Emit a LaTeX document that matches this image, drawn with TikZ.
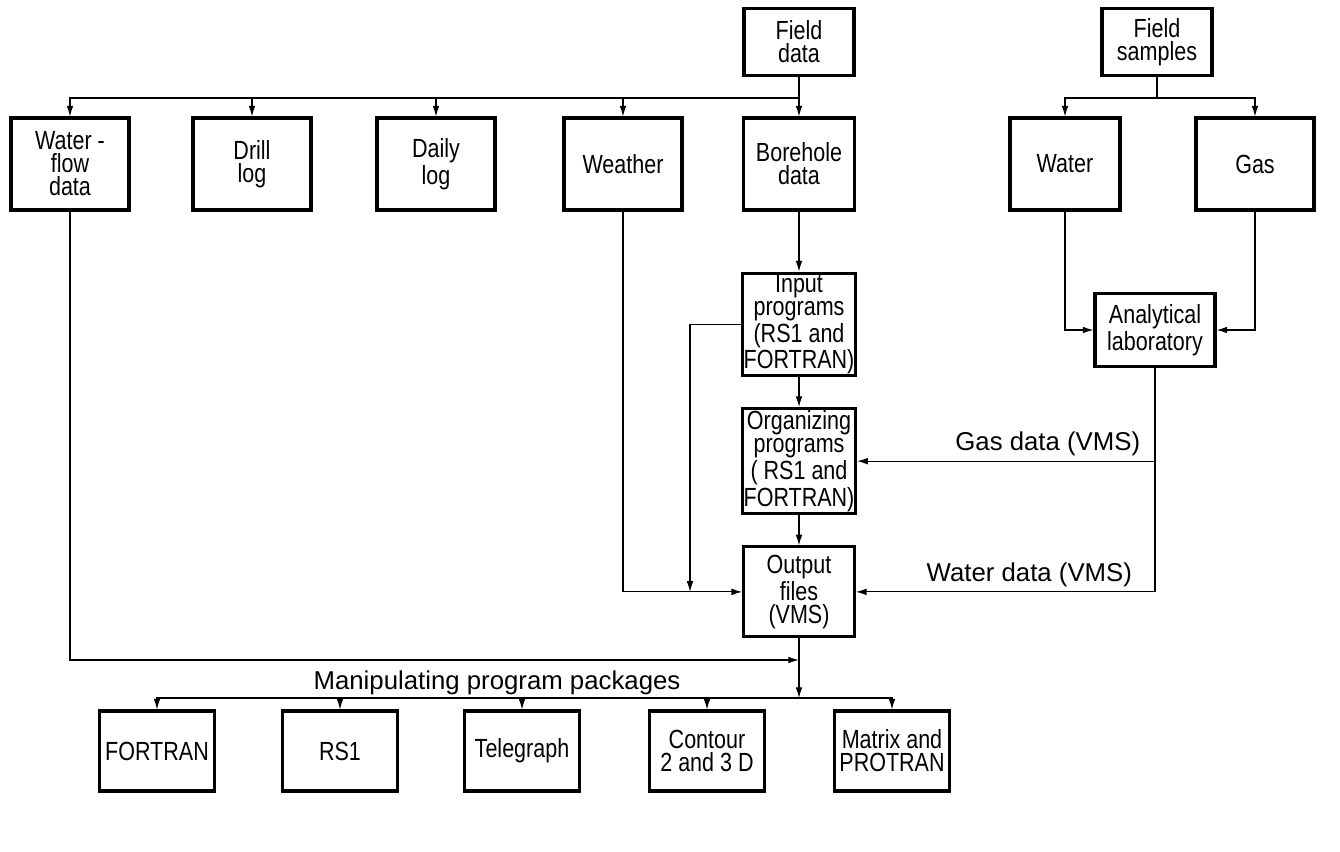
\documentclass[tikz,border=0pt]{standalone}
\usepackage{fontspec}
\setmainfont{Liberation Sans}
\newfontfamily\narrowfont{Liberation Sans}[FakeStretch=0.82]
\usetikzlibrary{arrows.meta,positioning}
\tikzset{
  unit/.style={draw,line width=1.3pt,align=center,inner sep=0.5pt,
    font=\narrowfont\fontsize{11.2}{9.8}\selectfont},
  source/.style={unit,minimum width=1.65cm,minimum height=1cm},
  record/.style={unit,minimum width=1.77cm,minimum height=1.38cm},
  program/.style={unit,minimum width=1.66cm},
  package/.style={unit,minimum width=1.72cm,minimum height=1.2cm},
  link/.style={->,line width=0.5pt},
  tag/.style={font=\fontsize{11}{11}\selectfont,inner sep=2pt}
}

\begin{document}
\begin{tikzpicture}[x=0.015cm,y=-0.015cm,>={Latex[length=1.6mm,width=1mm]}]
  \useasboundingbox (0,0) rectangle (1340,851);
  % sources
  \node[source] (fielddata) at (799,42) {Field\\data};
  \node[source] (fieldsamples) at (1157,42) {Field\\samples};
  % records
  \node[record] (waterflow) at (70,164) {Water -\\flow\\data};
  \node[record] (drill) at (252,164) {Drill\\log};
  \node[record] (daily) at (436,164) {Daily\\log};
  \node[record] (weather) at (623,164) {Weather};
  \node[record,minimum width=1.66cm] (borehole) at (799,164) {Borehole\\data};
  \node[record,minimum width=1.65cm] (water) at (1065,164) {Water};
  \node[record] (gas) at (1255,164) {Gas};
  % programs
  \node[program,minimum height=1.45cm,below=0.9cm of borehole] (input) {Input\\programs\\(RS1 and\\FORTRAN)};
  \node[program,minimum height=1.58cm,below=0.45cm of input] (organize) {Organizing\\programs\\( RS1 and\\FORTRAN)};
  \node[program,minimum height=1.35cm,below=0.45cm of organize] (output) {Output\\files\\(VMS)};
  \node[unit,minimum width=1.8cm,minimum height=1.1cm] (lab) at (1155,330) {Analytical\\laboratory};
  % packages
  \node[package] (fortran) at (157,751) {FORTRAN};
  \node[package] (rsone) at (340,751) {RS1};
  \node[package] (telegraph) at (522,751) {Telegraph};
  \node[package] (contour) at (707,751) {Contour\\2 and 3 D};
  \node[package] (matrix) at (892,751) {Matrix and\\PROTRAN};
  \node[tag] (manip) at (497,683) {Manipulating program packages};
  % buses
  \coordinate (topbus) at (799,98);
  \coordinate (samplebus) at (1157,98);
  \coordinate (inbus) at (690,0);
  \coordinate (flowbus) at (799,660);
  \coordinate (packbus) at (799,698);
  % connectors
  \draw[link] (fielddata) -- (borehole);
  \foreach \r in {waterflow,drill,daily,weather}
    \draw[link] (topbus) -| (\r.north);
  \draw[line width=0.5pt] (fieldsamples) -- (samplebus);
  \draw[link] (samplebus) -| (water.north);
  \draw[link] (samplebus) -| (gas.north);
  \draw[link] (water.south) |- (lab.west);
  \draw[link] (gas.south) |- (lab.east);
  \draw[link] (borehole) -- (input);
  \draw[link] (input) -- (organize);
  \draw[link] (organize) -- (output);
  \draw[link] (input.west) -| (inbus |- output);
  \draw[link] (weather.south) |- (output.west);
  \draw[link] (lab.south) |- (output.east) node[tag,pos=0.71,above] {Water data (VMS)};
  \draw[link] (lab.south |- organize.east) -- (organize.east) node[tag,pos=0.36,above] {Gas data (VMS)};
  \draw[link] (waterflow.south) |- (flowbus);
  \draw[link] (output.south) -- (packbus);
  \foreach \p in {fortran,rsone,telegraph,contour,matrix}
    \draw[link] (packbus) -| (\p.north);
\end{tikzpicture}
\end{document}
